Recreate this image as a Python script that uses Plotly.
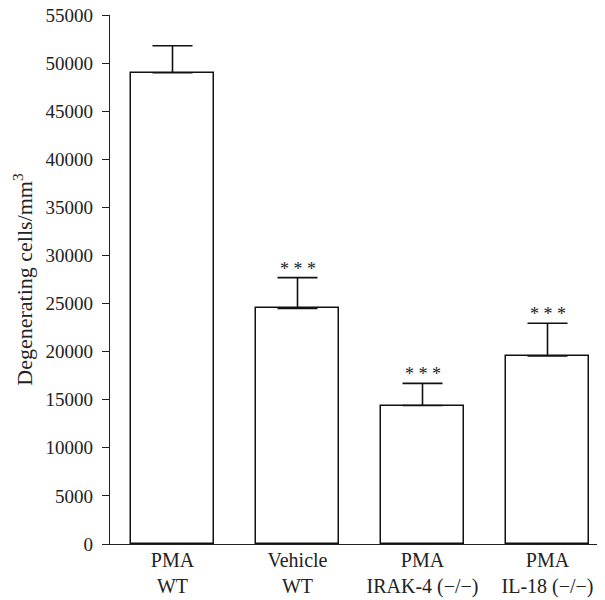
import plotly.graph_objects as go

categories = ["PMA<br>WT", "Vehicle<br>WT", "PMA<br>IRAK-4 (−/−)", "PMA<br>IL-18 (−/−)"]
values = [49000, 24500, 14400, 19550]
errors = [2800, 3200, 2300, 3400]
significance = ["", "* * *", "* * *", "* * *"]
y_ticks = list(range(0, 55001, 5000))

FONT = "Liberation Serif"
x_idx = list(range(len(categories)))

fig = go.Figure()
fig.add_trace(go.Bar(
    x=x_idx, y=values, width=0.665,
    marker=dict(color="white", line=dict(color="#111", width=1.5)),
    error_y=dict(type="data", array=errors, arrayminus=[0]*len(errors), symmetric=False,
                 color="#111", thickness=1.6, width=20),
    showlegend=False, hoverinfo="skip",
))

for i, (v, e, s) in enumerate(zip(values, errors, significance)):
    if s:
        fig.add_annotation(x=i, y=v + e, text=s, showarrow=False, yanchor="bottom", yshift=-3,
                           font=dict(family=FONT, size=18, color="#222"))

# page body has an 8px margin: figure is offset by (8, 8)
fig.update_layout(
    width=597, height=592,
    margin=dict(l=102, r=0, t=7, b=56, pad=0),
    plot_bgcolor="white", paper_bgcolor="white",
    font=dict(family=FONT, size=19, color="#222"),
    bargap=0,
    xaxis=dict(
        range=[-0.5, 3.46], tickmode="array", tickvals=x_idx, ticktext=categories,
        showline=True, linecolor="#222", linewidth=1.3, ticks="", showgrid=False,
        zeroline=False, automargin=False, ticklabelstandoff=-2,
        tickfont=dict(family=FONT, size=20, color="#222"), fixedrange=True,
    ),
    yaxis=dict(
        range=[0, 55000], tickmode="array", tickvals=y_ticks, ticktext=[str(t) for t in y_ticks],
        showline=True, linecolor="#222", linewidth=1.3, ticks="outside", ticklen=7,
        tickcolor="#222", tickwidth=1.3, showgrid=False, zeroline=False, ticklabelstandoff=5,
        ticklabeloverflow="allow", automargin="left",
        tickfont=dict(family=FONT, size=19, color="#222"),
        title=dict(text="Degenerating cells/mm<sup>3</sup>", font=dict(family=FONT, size=22, color="#222"), standoff=6),
    ),
)

fig.write_html("out.html")
